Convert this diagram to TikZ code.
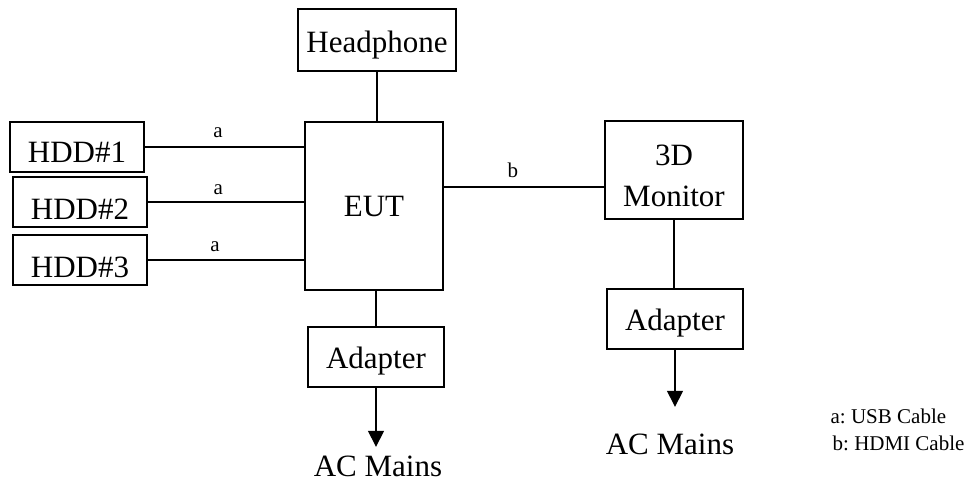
\documentclass[tikz,border=0pt]{standalone}
\usepackage{fontspec}
\setmainfont{Liberation Serif}
\usetikzlibrary{arrows.meta}
\frenchspacing
\begin{document}
\begin{tikzpicture}[x=1pt,y=-1pt,
  every path/.style={line width=1.3pt},
  blk/.style={draw, line width=1.3pt, inner sep=0pt, font=\fontsize{31}{41}\selectfont, text depth=0pt},
  big/.style={font=\fontsize{31}{41}\selectfont, inner sep=0pt},
  small/.style={font=\fontsize{21}{25}\selectfont, inner sep=0pt},
  arr/.style={-{Triangle[width=16pt,length=16pt]}}
]
\useasboundingbox (0,0) rectangle (968,481);
\node[blk, minimum width=134pt, minimum height=50pt, text height=32pt] (hdd1) at (77,147) {HDD\#1};
\node[blk, minimum width=134pt, minimum height=50pt, text height=34pt] (hdd2) at (80,202) {HDD\#2};
\node[blk, minimum width=134pt, minimum height=50pt, text height=34pt] (hdd3) at (80,260) {HDD\#3};
\node[blk, minimum width=158pt, minimum height=62pt, text height=26pt] (head) at (377,40) {Headphone};
\node[blk, minimum width=138pt, minimum height=168pt, text height=20pt] (eut) at (374,206) {EUT};
\node[blk, minimum width=136pt, minimum height=60pt, text height=22pt] (adp1) at (376,357) {Adapter};
\node[blk, minimum width=138pt, minimum height=98pt, text height=72pt, align=center] (mon) at (674,170) {3D\\Monitor};
\node[blk, minimum width=136pt, minimum height=60pt, text height=22pt] (adp2) at (675,319) {Adapter};
\node[big, anchor=base] (ac1) at (378,476) {AC Mains};
\node[big, anchor=base] (ac2) at (670,454) {AC Mains};
\node[small, anchor=base west] (leg1) at (830,423) {a: USB Cable};
\node[small, anchor=base west] (leg2) at (832,450) {b: HDMI Cable};

\draw (hdd1.east) -- (hdd1.east -| eut.west) node[small, pos=0.46, anchor=base, yshift=9pt] (la1) {a};
\draw (hdd2.east) -- (hdd2.east -| eut.west) node[small, pos=0.45, anchor=base, yshift=8pt] (la2) {a};
\draw (hdd3.east) -- (hdd3.east -| eut.west) node[small, pos=0.43, anchor=base, yshift=9pt] (la3) {a};
\draw ([yshift=19pt]eut.east) -- ([yshift=19pt]eut.east -| mon.west) node[small, pos=0.43, anchor=base, yshift=9pt] (lb) {b};
\draw (head.south) -- (head.south |- eut.north);
\draw (adp1.north) -- (adp1.north |- eut.south);
\draw (mon.south) -- (mon.south |- adp2.north);
\draw[arr, shorten >=8pt] (adp1.south) -- (adp1.south |- ac1.north);
\draw[arr, shorten >=26pt] (adp2.south) -- (adp2.south |- ac2.north);
\end{tikzpicture}
\end{document}
